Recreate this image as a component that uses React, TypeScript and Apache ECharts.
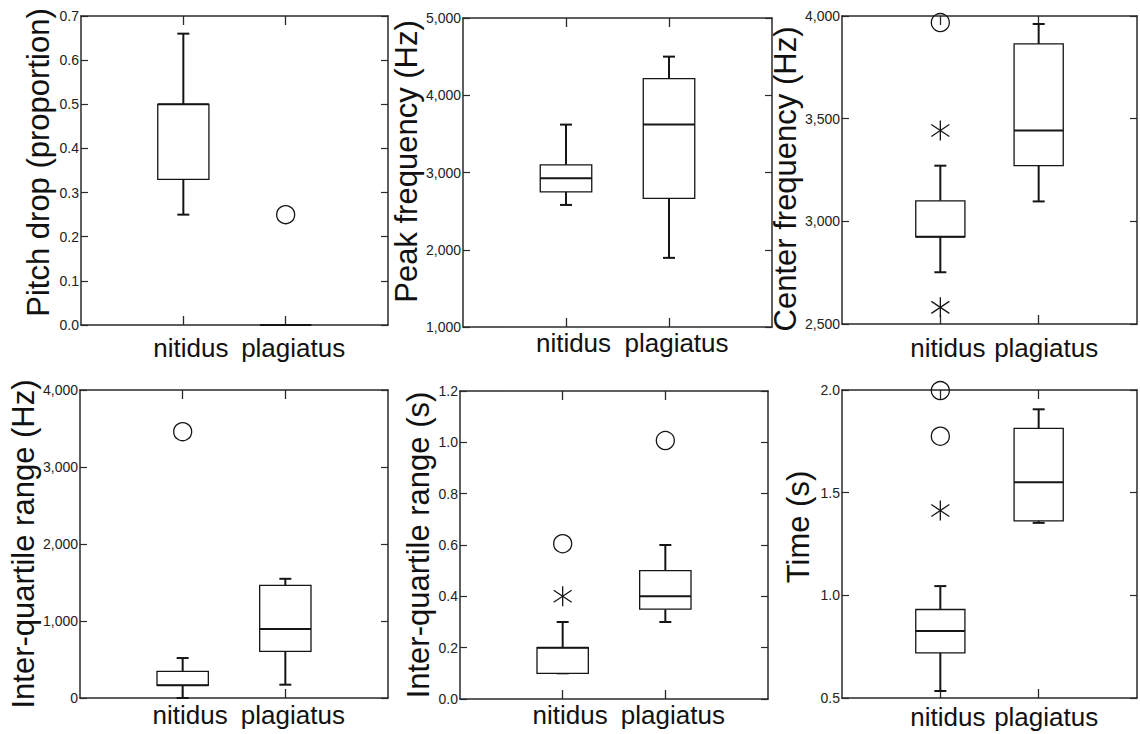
import React, { useEffect, useRef } from 'react';
import * as echarts from 'echarts';

const categories = ['', 'nitidus', 'plagiatus', ''];

// box stats: [min, Q1, median, Q3, max]; outliers: [categoryIndex, value]
const pitchDropNitidus = [0.25, 0.33, 0.5, 0.5, 0.66];
const pitchDropPlagiatus = [0, 0, 0, 0, 0];
const pitchDropCircles = [[2, 0.25]];
const pitchDropStars: number[][] = [];

const peakFreqNitidus = [2580, 2750, 2925, 3100, 3620];
const peakFreqPlagiatus = [1895, 2665, 3620, 4215, 4500];
const peakFreqCircles: number[][] = [];
const peakFreqStars: number[][] = [];

const centerFreqNitidus = [2752, 2925, 2925, 3100, 3271];
const centerFreqPlagiatus = [3097, 3271, 3442, 3864, 3961];
const centerFreqCircles = [[1, 3968]];
const centerFreqStars = [[1, 3442], [1, 2581]];

const iqrHzNitidus = [0, 164, 164, 346, 519];
const iqrHzPlagiatus = [173, 605, 895, 1462, 1548];
const iqrHzCircles = [[1, 3459]];
const iqrHzStars: number[][] = [];

const iqrSNitidus = [0.1, 0.1, 0.2, 0.2, 0.3];
const iqrSPlagiatus = [0.3, 0.35, 0.4, 0.5, 0.6];
const iqrSCircles = [[1, 0.605], [2, 1.007]];
const iqrSStars = [[1, 0.4]];

const timeNitidus = [0.534, 0.72, 0.826, 0.931, 1.045];
const timePlagiatus = [1.353, 1.363, 1.551, 1.813, 1.906];
const timeCircles = [[1, 1.997], [1, 1.775]];
const timeStars = [[1, 1.413]];

const yNames = [
  'Pitch drop (proportion)',
  'Peak frequency (Hz)',
  'Center frequency (Hz)',
  'Inter-quartile range (Hz)',
  'Inter-quartile range (s)',
  'Time (s)',
];
const yMins = [0, 1000, 2500, 0, 0, 0.5];
const yMaxs = [0.7, 5000, 4000, 4000, 1.2, 2.0];
const yIntervals = [0.1, 1000, 500, 1000, 0.2, 0.5];
const yDecimals = [1, 0, 0, 0, 1, 1];

const panelData = [
  { boxes: [pitchDropNitidus, pitchDropPlagiatus], circles: pitchDropCircles, stars: pitchDropStars },
  { boxes: [peakFreqNitidus, peakFreqPlagiatus], circles: peakFreqCircles, stars: peakFreqStars },
  { boxes: [centerFreqNitidus, centerFreqPlagiatus], circles: centerFreqCircles, stars: centerFreqStars },
  { boxes: [iqrHzNitidus, iqrHzPlagiatus], circles: iqrHzCircles, stars: iqrHzStars },
  { boxes: [iqrSNitidus, iqrSPlagiatus], circles: iqrSCircles, stars: iqrSStars },
  { boxes: [timeNitidus, timePlagiatus], circles: timeCircles, stars: timeStars },
];

// layout (positions / styles)
const layouts = [
  { left: 81, top: 16, width: 307, height: 309, nameGap: 27, namePad: [0, 0, 0, 16], labelMargin: 10 },
  { left: 463, top: 18, width: 309, height: 309, nameGap: 39, namePad: [0, 0, 0, 22], labelMargin: 3 },
  { left: 842, top: 16, width: 308, height: 308, nameGap: 34, namePad: [0, 18, 0, 0], labelMargin: 11 },
  { left: 80, top: 390, width: 308, height: 308, nameGap: 36, namePad: [0, 0, 0, 0], labelMargin: 4 },
  { left: 460, top: 391, width: 308, height: 308, nameGap: 26, namePad: [0, 0, 0, 0], labelMargin: 3 },
  { left: 842, top: 390, width: 308, height: 308, nameGap: 28, namePad: [0, 0, 0, 34], labelMargin: 6 },
];

const FONT = '"Liberation Sans", Arial, Helvetica, sans-serif';
const AXIS_COLOR = '#2a2a2a';
const INK = '#151515';

function renderBox(params: any, api: any) {
  const x = api.value(0);
  const mn = api.value(1);
  const q1 = api.value(2);
  const md = api.value(3);
  const q3 = api.value(4);
  const mx = api.value(5);
  const pMin = api.coord([x, mn]);
  const pQ1 = api.coord([x, q1]);
  const pMd = api.coord([x, md]);
  const pQ3 = api.coord([x, q3]);
  const pMax = api.coord([x, mx]);
  const cx = pMin[0];
  const bw = api.size([1, 0])[0] * 0.5;
  const half = bw / 2;
  const cap = 6;
  const wStyle = { stroke: INK, lineWidth: 2 };
  return {
    type: 'group',
    children: [
      { type: 'line', shape: { x1: cx, y1: pQ3[1], x2: cx, y2: pMax[1] }, style: wStyle },
      { type: 'line', shape: { x1: cx - cap, y1: pMax[1], x2: cx + cap, y2: pMax[1] }, style: wStyle },
      { type: 'line', shape: { x1: cx, y1: pQ1[1], x2: cx, y2: pMin[1] }, style: wStyle },
      { type: 'line', shape: { x1: cx - cap, y1: pMin[1], x2: cx + cap, y2: pMin[1] }, style: wStyle },
      {
        type: 'rect',
        shape: { x: cx - half, y: pQ3[1], width: bw, height: pQ1[1] - pQ3[1] },
        style: { fill: '#fff', stroke: INK, lineWidth: 1.3 },
      },
      { type: 'line', shape: { x1: cx - half, y1: pMd[1], x2: cx + half, y2: pMd[1] }, style: { stroke: INK, lineWidth: 2 } },
    ],
  };
}

function renderOutlier(params: any, api: any) {
  const p = api.coord([api.value(0), api.value(1)]);
  const kind = api.value(2);
  const st = { stroke: INK, lineWidth: 1.3, fill: 'none' };
  if (kind === 0) {
    return { type: 'circle', shape: { cx: p[0], cy: p[1], r: 9 }, style: st };
  }
  const sx = 9;
  const sy = 6;
  const v = 10;
  return {
    type: 'group',
    children: [
      { type: 'line', shape: { x1: p[0], y1: p[1] - v, x2: p[0], y2: p[1] + v }, style: st },
      { type: 'line', shape: { x1: p[0] - sx, y1: p[1] - sy, x2: p[0] + sx, y2: p[1] + sy }, style: st },
      { type: 'line', shape: { x1: p[0] - sx, y1: p[1] + sy, x2: p[0] + sx, y2: p[1] - sy }, style: st },
    ],
  };
}

function buildOption() {
  const grid: any[] = [];
  const xAxis: any[] = [];
  const yAxis: any[] = [];
  const series: any[] = [];
  const tickShow = (idx: number) => idx === 1 || idx === 2;

  layouts.forEach((L, i) => {
    grid.push({ left: L.left, top: L.top, width: L.width, height: L.height });
    const dec = yDecimals[i];
    const fmt = (v: number) =>
      dec > 0 ? v.toFixed(dec) : Math.round(v).toLocaleString('en-US');
    // bottom x
    xAxis.push({
      type: 'category',
      gridIndex: i,
      data: categories,
      boundaryGap: false,
      position: 'bottom',
      axisLine: { onZero: false, lineStyle: { color: AXIS_COLOR, width: 1.5 } },
      axisTick: { inside: true, length: 9, interval: tickShow, lineStyle: { color: AXIS_COLOR, width: 1.3 } },
      axisLabel: {
        interval: 0,
        margin: L.labelMargin,
        fontSize: 26,
        fontFamily: FONT,
        color: '#111',
        padding: [0, 0, 0, 15],
      },
      splitLine: { show: false },
    });
    // top x
    xAxis.push({
      type: 'category',
      gridIndex: i,
      data: categories,
      boundaryGap: false,
      position: 'top',
      axisLine: { onZero: false, lineStyle: { color: AXIS_COLOR, width: 1.5 } },
      axisTick: { inside: true, length: 9, interval: tickShow, lineStyle: { color: AXIS_COLOR, width: 1.3 } },
      axisLabel: { show: false },
      splitLine: { show: false },
    });
    // left y
    yAxis.push({
      type: 'value',
      gridIndex: i,
      position: 'left',
      min: yMins[i],
      max: yMaxs[i],
      interval: yIntervals[i],
      name: yNames[i],
      nameLocation: 'middle',
      nameGap: L.nameGap,
      nameTextStyle: { fontSize: 31, fontFamily: FONT, color: '#111', padding: L.namePad },
      axisLine: { show: true, onZero: false, lineStyle: { color: AXIS_COLOR, width: 1.5 } },
      axisTick: { show: true, inside: true, length: 7, lineStyle: { color: AXIS_COLOR, width: 1.2 } },
      axisLabel: { margin: 2, fontSize: 14, fontFamily: FONT, color: '#222', formatter: fmt },
      splitLine: { show: false },
    });
    // right y
    yAxis.push({
      type: 'value',
      gridIndex: i,
      position: 'right',
      min: yMins[i],
      max: yMaxs[i],
      interval: yIntervals[i],
      axisLine: { show: true, onZero: false, lineStyle: { color: AXIS_COLOR, width: 1.5 } },
      axisTick: { show: true, inside: true, length: 7, lineStyle: { color: AXIS_COLOR, width: 1.2 } },
      axisLabel: { show: false },
      splitLine: { show: false },
    });

    const pd = panelData[i];
    series.push({
      type: 'custom',
      xAxisIndex: i * 2,
      yAxisIndex: i * 2,
      renderItem: renderBox,
      clip: false,
      data: pd.boxes.map((b, k) => [k + 1, ...b]),
      encode: { x: 0, y: [1, 2, 3, 4, 5] },
      z: 2,
    });
    const outl = [
      ...pd.circles.map((c) => [c[0], c[1], 0]),
      ...pd.stars.map((c) => [c[0], c[1], 1]),
    ];
    if (outl.length) {
      series.push({
        type: 'custom',
        xAxisIndex: i * 2,
        yAxisIndex: i * 2,
        renderItem: renderOutlier,
        clip: false,
        data: outl,
        encode: { x: 0, y: 1 },
        z: 3,
      });
    }
  });

  return {
    animation: false,
    backgroundColor: '#fff',
    grid,
    xAxis,
    yAxis,
    series,
  };
}

export default function App() {
  const ref = useRef<HTMLDivElement>(null);
  useEffect(() => {
    if (!ref.current) return;
    const chart = echarts.init(ref.current, undefined, { renderer: 'svg' });
    chart.setOption(buildOption() as any);
    return () => chart.dispose();
  }, []);
  return (
    <div
      ref={ref}
      style={{ position: 'absolute', left: 0, top: 0, width: 1140, height: 734, background: '#fff' }}
    />
  );
}
